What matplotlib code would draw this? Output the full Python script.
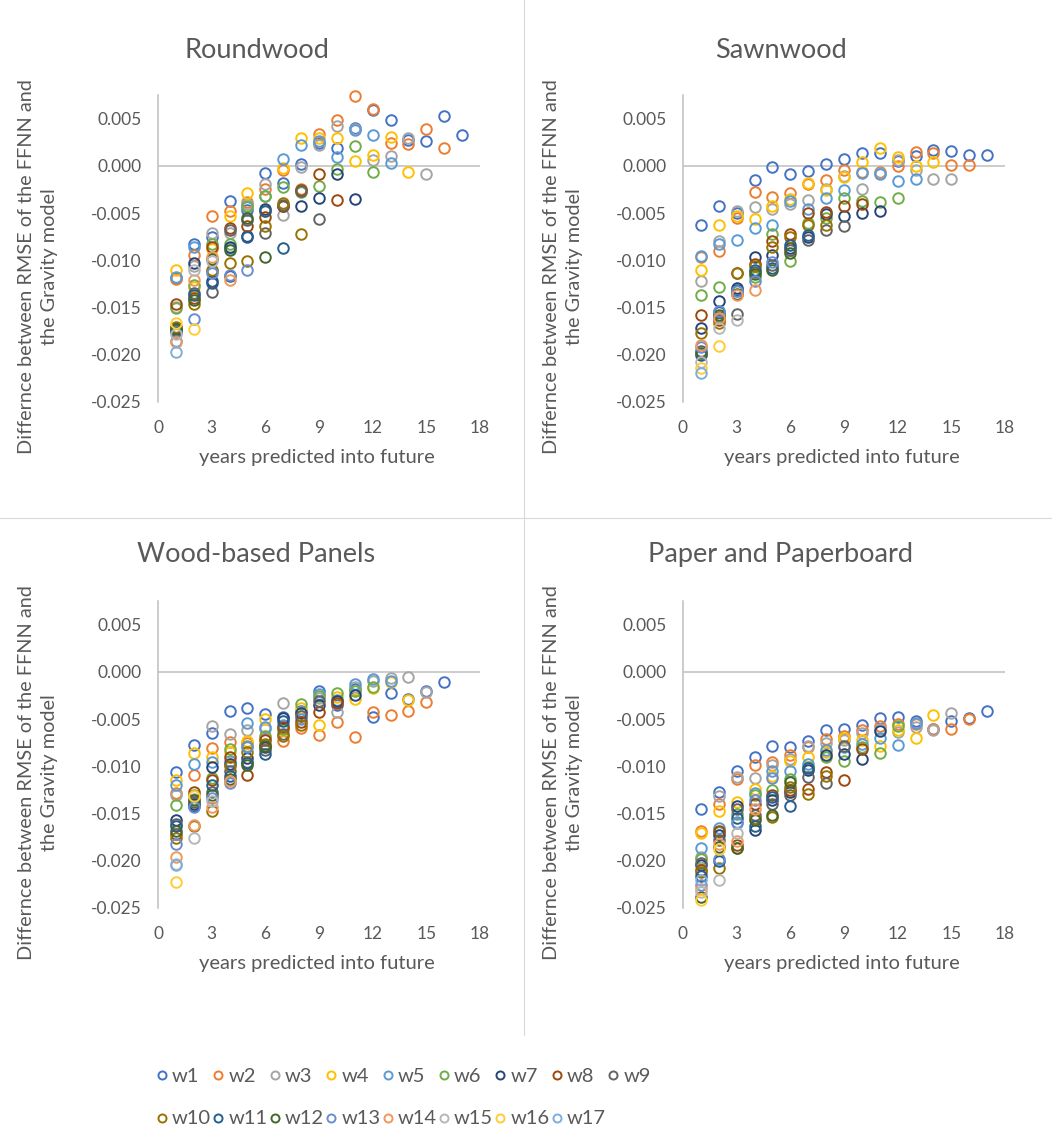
import numpy as np
import matplotlib
matplotlib.use("Agg")
import matplotlib.pyplot as plt
from matplotlib.lines import Line2D

plt.rcParams['font.family'] = ['Lato', 'DejaVu Sans']

series = [f"w{i}" for i in range(1, 18)]
colors = ["#4472C4", "#ED7D31", "#A5A5A5", "#FFC000", "#5B9BD5", "#70AD47",
          "#264478", "#9E480E", "#636363", "#997300", "#255E91", "#43682B",
          "#698ED0", "#F1975A", "#B7B7B7", "#FFCD33", "#7CAFDD"]
years = list(range(1, 18))
nan = np.nan

# values per forecast year (index = year-1), entries ordered w1, w2, ...
roundwood = [
    [-0.0119, -0.0120, -0.0149, -0.0110, -0.0118, -0.0151, -0.0172, -0.0146, -0.0174, -0.0171, -0.0176, -0.0173, -0.0185, -0.0187, -0.0178, -0.0166, -0.0197],
    [-0.0083, -0.0094, -0.0106, -0.0128, -0.0086, -0.0126, -0.0103, -0.0140, -0.0135, -0.0146, -0.0137, -0.0142, -0.0162, -0.0121, -0.0110, -0.0173],
    [-0.0075, -0.0053, -0.0071, -0.0088, -0.0111, -0.0083, -0.0122, -0.0086, -0.0134, -0.0110, -0.0124, -0.0099, -0.0113, -0.0097, -0.0101],
    [-0.0037, -0.0048, -0.0071, -0.0053, -0.0087, -0.0083, -0.0086, -0.0066, -0.0068, -0.0103, -0.0117, -0.0089, -0.0116, -0.0121],
    [-0.0047, -0.0038, -0.0040, -0.0029, -0.0044, -0.0043, -0.0074, -0.0064, -0.0057, -0.0101, -0.0075, -0.0055, -0.0110],
    [-0.0008, -0.0024, -0.0019, -0.0048, -0.0032, -0.0032, -0.0046, -0.0054, -0.0071, -0.0064, -0.0048, -0.0097],
    [-0.0018, -0.0004, -0.0052, -0.0002, 0.0007, -0.0022, -0.0042, -0.0043, -0.0041, -0.0039, -0.0087],
    [0.0002, -0.0024, -0.0001, 0.0029, 0.0022, -0.0028, -0.0043, -0.0026, -0.0027, -0.0072],
    [0.0024, 0.0034, 0.0022, 0.0029, 0.0026, -0.0021, -0.0034, -0.0009, -0.0056],
    [0.0019, 0.0049, 0.0042, 0.0029, 0.0009, -0.0003, -0.0009, -0.0036],
    [0.0040, 0.0074, 0.0039, 0.0005, 0.0038, 0.0021, -0.0035],
    [0.0059, 0.0060, 0.0006, 0.0011, 0.0033, -0.0006],
    [0.0049, 0.0024, 0.0010, 0.0031, 0.0003],
    [0.0027, 0.0023, 0.0029, -0.0006],
    [0.0026, 0.0039, -0.0009],
    [0.0053, 0.0019],
    [0.0033],
]

sawnwood = [
    [-0.0063, -0.0097, -0.0122, -0.0110, -0.0095, -0.0137, -0.0172, -0.0158, -0.0196, -0.0177, -0.0200, -0.0198, -0.0192, -0.0190, -0.0208, -0.0214, -0.0219],
    [-0.0043, -0.0090, -0.0080, -0.0063, -0.0083, -0.0128, -0.0143, -0.0163, -0.0160, -0.0166, -0.0155, -0.0158, -0.0154, -0.0161, -0.0172, -0.0191],
    [-0.0050, -0.0055, -0.0048, -0.0053, -0.0078, -0.0132, -0.0129, -0.0113, -0.0157, -0.0113, -0.0131, -0.0136, -0.0133, -0.0137, -0.0163],
    [-0.0015, -0.0028, -0.0044, -0.0056, -0.0066, -0.0118, -0.0097, -0.0104, -0.0112, -0.0106, -0.0110, -0.0115, -0.0122, -0.0131],
    [-0.0001, -0.0033, -0.0046, -0.0043, -0.0063, -0.0072, -0.0094, -0.0080, -0.0105, -0.0086, -0.0108, -0.0110, -0.0102],
    [-0.0009, -0.0029, -0.0040, -0.0035, -0.0037, -0.0101, -0.0087, -0.0072, -0.0089, -0.0075, -0.0084, -0.0092],
    [-0.0005, -0.0019, -0.0036, -0.0018, -0.0046, -0.0061, -0.0075, -0.0050, -0.0078, -0.0063, -0.0073],
    [0.0002, -0.0015, -0.0025, -0.0026, -0.0034, -0.0055, -0.0051, -0.0049, -0.0068, -0.0063],
    [0.0007, -0.0004, -0.0011, -0.0012, -0.0026, -0.0034, -0.0053, -0.0043, -0.0064],
    [0.0014, -0.0007, -0.0024, 0.0004, -0.0008, -0.0037, -0.0050, -0.0040],
    [0.0014, -0.0006, -0.0008, 0.0019, -0.0009, -0.0038, -0.0048],
    [0.0005, 0.0000, 0.0006, 0.0009, -0.0016, -0.0034],
    [0.0010, 0.0015, -0.0004, 0.0000, -0.0014],
    [0.0017, 0.0014, -0.0014, 0.0004],
    [0.0016, 0.0001, -0.0014],
    [0.0011, 0.0001],
    [0.0012],
]

wood_panels = [
    [-0.0106, -0.0128, -0.0130, -0.0115, -0.0120, -0.0141, -0.0157, -0.0172, -0.0161, -0.0176, -0.0163, -0.0168, -0.0182, -0.0196, -0.0203, -0.0222, -0.0205],
    [-0.0077, -0.0109, -0.0135, -0.0086, -0.0098, -0.0130, -0.0140, -0.0127, -0.0138, -0.0163, -0.0142, -0.0136, -0.0143, -0.0162, -0.0176, -0.0131],
    [-0.0065, -0.0081, -0.0057, -0.0090, -0.0095, -0.0112, -0.0101, -0.0115, -0.0127, -0.0147, -0.0120, -0.0130, -0.0134, -0.0143, -0.0137],
    [-0.0041, -0.0074, -0.0066, -0.0085, -0.0094, -0.0082, -0.0098, -0.0090, -0.0105, -0.0100, -0.0110, -0.0113, -0.0118, -0.0116],
    [-0.0038, -0.0075, -0.0062, -0.0073, -0.0054, -0.0078, -0.0091, -0.0109, -0.0095, -0.0085, -0.0097, -0.0099, -0.0080],
    [-0.0045, -0.0070, -0.0060, -0.0050, -0.0058, -0.0068, -0.0080, -0.0072, -0.0083, -0.0076, -0.0087, -0.0078],
    [-0.0048, -0.0073, -0.0033, -0.0062, -0.0056, -0.0060, -0.0049, -0.0058, -0.0066, -0.0068, -0.0052],
    [-0.0041, -0.0059, -0.0043, -0.0038, -0.0050, -0.0034, -0.0044, -0.0053, -0.0047, -0.0056],
    [-0.0020, -0.0067, -0.0028, -0.0056, -0.0023, -0.0026, -0.0035, -0.0043, -0.0031],
    [-0.0035, -0.0053, -0.0043, -0.0027, -0.0030, -0.0022, -0.0031, -0.0033],
    [-0.0018, -0.0069, -0.0016, -0.0029, -0.0013, -0.0020, -0.0024],
    [-0.0048, -0.0042, -0.0010, -0.0017, -0.0008, -0.0016],
    [-0.0022, -0.0046, -0.0007, -0.0011, -0.0010],
    [-0.0029, -0.0041, -0.0005, -0.0030],
    [-0.0020, -0.0032, -0.0021],
    [-0.0011, nan],
    [nan],
]

paper = [
    [-0.0145, -0.0169, -0.0196, -0.0171, -0.0187, -0.0198, -0.0204, -0.0210, -0.0202, -0.0212, -0.0216, -0.0238, -0.0226, -0.0230, -0.0233, -0.0242, -0.0220],
    [-0.0127, -0.0140, -0.0131, -0.0147, -0.0165, -0.0170, -0.0173, -0.0168, -0.0178, -0.0208, -0.0200, -0.0185, -0.0198, -0.0182, -0.0220, -0.0188],
    [-0.0105, -0.0113, -0.0111, -0.0138, -0.0159, -0.0150, -0.0142, -0.0183, -0.0145, -0.0187, -0.0155, -0.0186, -0.0160, -0.0179, -0.0171],
    [-0.0090, -0.0099, -0.0112, -0.0124, -0.0128, -0.0130, -0.0167, -0.0140, -0.0152, -0.0155, -0.0163, -0.0157, -0.0136, -0.0145],
    [-0.0078, -0.0095, -0.0099, -0.0110, -0.0105, -0.0125, -0.0136, -0.0130, -0.0140, -0.0154, -0.0133, -0.0152, -0.0112],
    [-0.0080, -0.0088, -0.0092, -0.0094, -0.0105, -0.0113, -0.0127, -0.0125, -0.0130, -0.0122, -0.0142, -0.0117],
    [-0.0073, -0.0080, -0.0078, -0.0090, -0.0098, -0.0101, -0.0104, -0.0124, -0.0111, -0.0129, -0.0102],
    [-0.0062, -0.0071, -0.0075, -0.0085, -0.0083, -0.0090, -0.0088, -0.0106, -0.0118, -0.0110],
    [-0.0061, -0.0068, -0.0072, -0.0070, -0.0080, -0.0094, -0.0087, -0.0114, -0.0078],
    [-0.0056, -0.0062, -0.0065, -0.0072, -0.0076, -0.0080, -0.0092, -0.0082],
    [-0.0049, -0.0057, -0.0060, -0.0078, -0.0070, -0.0086, -0.0063],
    [-0.0048, -0.0055, -0.0064, -0.0062, -0.0077, -0.0057],
    [-0.0052, -0.0055, -0.0058, -0.0070, -0.0054],
    [-0.0061, -0.0060, -0.0062, -0.0046],
    [-0.0052, -0.0061, -0.0044],
    [-0.0049, -0.0050],
    [-0.0041],
]

titles = ["Roundwood", "Sawnwood", "Wood-based Panels", "Paper and Paperboard"]
panels = [roundwood, sawnwood, wood_panels, paper]
yticks = [0.005, 0.0, -0.005, -0.010, -0.015, -0.020, -0.025]
xticks = [0, 3, 6, 9, 12, 15, 18]
ylabel = "Differnce between RMSE of the FFNN and\nthe Gravity model"
xlabel = "years predicted into future"

W, H = 1052, 1129
fig = plt.figure(figsize=(W / 100, H / 100), dpi=100)
txt = "#595959"
axc = "#BFBFBF"

# panel rectangles in pixels: left, top, right, bottom
rects = [(158, 95, 480, 402), (683, 95, 1005, 402),
         (158, 601, 480, 908), (683, 601, 1005, 908)]
title_pos = [(257, 50), (781, 50), (256, 554), (781, 554)]

for p, (data, title, r, tp) in enumerate(zip(panels, titles, rects, title_pos)):
    l, t, rr, b = r
    ax = fig.add_axes([l / W, 1 - b / H, (rr - l) / W, (b - t) / H])
    for k, name in enumerate(series):
        xs = [years[y] for y in range(len(data)) if len(data[y]) > k]
        ys = [data[y][k] for y in range(len(data)) if len(data[y]) > k]
        ax.plot(xs, ys, linestyle="none", marker="o", ms=7.6, mfc="none",
                mec=colors[k], mew=1.4, zorder=3, clip_on=False)
    ax.set_xlim(0, 18)
    ax.set_ylim(-0.025, 0.0075)
    ax.axhline(0, color=axc, lw=1.1, zorder=1)
    for s in ["top", "right", "bottom"]:
        ax.spines[s].set_visible(False)
    ax.spines["left"].set_color(axc)
    ax.spines["left"].set_linewidth(1.1)
    ax.set_yticks(yticks)
    ax.set_yticklabels([f"{v:.3f}" if v != 0 else "0.000" for v in yticks])
    ax.set_xticks(xticks)
    ax.set_xticklabels([str(v) for v in xticks])
    ax.tick_params(axis="y", length=0, pad=12, labelsize=12.5, labelcolor=txt)
    ax.tick_params(axis="x", length=0, pad=13, labelsize=12.5, labelcolor=txt)
    ax.patch.set_visible(False)
    fig.text(tp[0] / W, 1 - tp[1] / H, title, ha="center", va="center",
             fontsize=19.5, color=txt)
    fig.text((l + 159) / W, 1 - (b + 56) / H, xlabel, ha="center",
             va="center", fontsize=14.5, color=txt)
    fig.text((l - 120) / W, 1 - (b - 135) / H, ylabel, ha="center",
             va="center", rotation=90, fontsize=14.3, color=txt,
             multialignment="center", linespacing=1.38)

# divider lines
fig.add_artist(Line2D([524 / W, 524 / W], [1 - 0 / H, 1 - 1035 / H],
                      transform=fig.transFigure, color="#D9D9D9", lw=0.8))
fig.add_artist(Line2D([0, 1], [1 - 518 / H, 1 - 518 / H],
                      transform=fig.transFigure, color="#D9D9D9", lw=0.8))

# legend, laid out in two rows like the original (w1..w9, w10..w17)
for i, (name, c) in enumerate(zip(series, colors)):
    row, col = divmod(i, 9)
    cx = 162 + 56.4 * col
    cy = 1075 + 43 * row
    fig.add_artist(Line2D([cx / W], [1 - cy / H], transform=fig.transFigure,
                          linestyle="none", marker="o", ms=5.8, mfc="none",
                          mec=c, mew=1.4))
    fig.text((cx + 10) / W, 1 - (cy + 1) / H, name, ha="left", va="center",
             fontsize=14.5, color=txt)

fig.savefig("out.png", dpi=100)
